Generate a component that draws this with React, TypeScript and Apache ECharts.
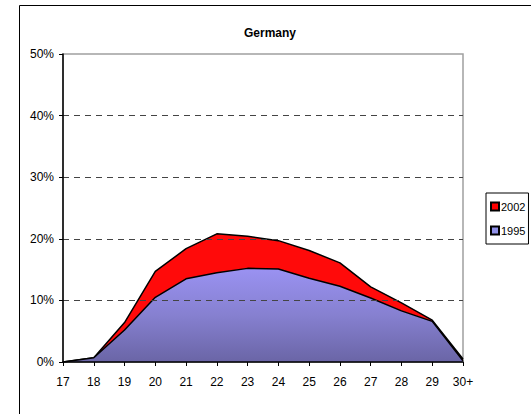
import React, { useEffect, useRef } from "react";
import * as echarts from "echarts";

// Age groups along the x axis
const ages = ["17", "18", "19", "20", "21", "22", "23", "24", "25", "26", "27", "28", "29", "30+"];
// Share of each age group, in percent
const share2002 = [0, 0.7, 6.4, 14.7, 18.4, 20.8, 20.4, 19.7, 18.1, 16.1, 12.2, 9.6, 6.8, 0.5];
const share1995 = [0, 0.7, 5.2, 10.5, 13.5, 14.5, 15.2, 15.1, 13.6, 12.3, 10.4, 8.3, 6.6, 0.2];
const yTicks = [0, 10, 20, 30, 40, 50];

const font = "'Liberation Sans', Arial, sans-serif";

export default function App() {
  const ref = useRef<HTMLDivElement>(null);

  useEffect(() => {
    if (!ref.current) return;
    const chart = echarts.init(ref.current, null, { renderer: "svg" });
    chart.setOption({
      animation: false,
      backgroundColor: "#fff",
      textStyle: { fontFamily: font },
      title: {
        text: "Germany",
        left: 265,
        textAlign: "center",
        top: 22,
        textStyle: { fontSize: 12, fontWeight: "bold", color: "#000", fontFamily: font },
      },
      graphic: [
        {
          type: "rect",
          shape: { x: 19.5, y: 5.5, width: 600, height: 500 },
          style: { fill: "none", stroke: "#000", lineWidth: 1 },
          silent: true,
          z: -10,
        },
      ],
      legend: {
        data: ["2002", "1995"],
        orient: "vertical",
        left: 486,
        top: 193,
        padding: [8, 3, 8, 4],
        itemGap: 13,
        itemWidth: 8,
        itemHeight: 8,
        icon: "rect",
        borderColor: "#000",
        borderWidth: 1,
        textStyle: { fontSize: 11, color: "#000", fontFamily: font, padding: [0, 0, 0, -3] },
      },
      grid: {
        left: 63,
        right: 68,
        top: 54,
        bottom: 52,
        show: true,
        borderColor: "#a0a0a0",
        borderWidth: 1.5,
        backgroundColor: "transparent",
      },
      xAxis: {
        type: "category",
        data: ages,
        boundaryGap: false,
        axisLine: { show: true, lineStyle: { color: "#000", width: 1.5 } },
        axisTick: { show: true, inside: false, length: 4, lineStyle: { color: "#000" }, alignWithLabel: true },
        axisLabel: { fontSize: 12, color: "#000", margin: 14, fontFamily: font },
        splitLine: { show: false },
        z: 10,
      },
      yAxis: {
        type: "value",
        min: yTicks[0],
        max: yTicks[yTicks.length - 1],
        interval: 10,
        axisLine: { show: true, lineStyle: { color: "#000", width: 1.5 } },
        axisTick: { show: true, length: 4, lineStyle: { color: "#000" } },
        axisLabel: { fontSize: 12, color: "#000", margin: 9, formatter: "{value}%", fontFamily: font },
        splitLine: {
          show: true,
          lineStyle: {
            color: ["transparent", "#444", "#444", "#444", "#444", "transparent"],
            type: [6, 5],
            width: 1,
          },
        },
        z: 10,
      },
      series: [
        {
          name: "2002",
          type: "line",
          data: share2002,
          symbol: "none",
          lineStyle: { color: "#000", width: 1.5 },
          itemStyle: { color: "#ff0000", borderColor: "#000", borderWidth: 1 },
          areaStyle: { color: "#ff0a0a", opacity: 1 },
          z: 2,
        },
        {
          name: "1995",
          type: "line",
          data: share1995,
          symbol: "none",
          lineStyle: { color: "#000", width: 1.5 },
          itemStyle: { color: "#9090e8", borderColor: "#000", borderWidth: 1 },
          areaStyle: {
            opacity: 1,
            color: new echarts.graphic.LinearGradient(0, 0, 0, 1, [
              { offset: 0, color: "#9a92f2" },
              { offset: 0.5, color: "#8680d0" },
              { offset: 1, color: "#6a65a6" },
            ]),
          },
          z: 3,
        },
      ],
    });
    return () => chart.dispose();
  }, []);

  return <div ref={ref} style={{ width: 531, height: 414, position: "absolute", left: 0, top: 0 }} />;
}
